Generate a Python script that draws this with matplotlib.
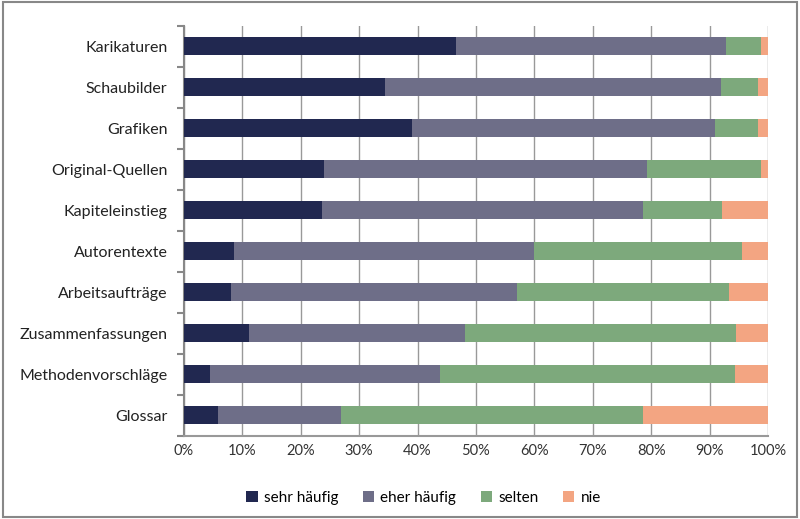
import numpy as np
import matplotlib
matplotlib.use('Agg')
import matplotlib.pyplot as plt
from matplotlib.patches import Rectangle

plt.rcParams['font.family'] = ['Lato', 'DejaVu Sans']

categories = ['Karikaturen', 'Schaubilder', 'Grafiken', 'Original-Quellen', 'Kapiteleinstieg',
              'Autorentexte', 'Arbeitsaufträge', 'Zusammenfassungen', 'Methodenvorschläge', 'Glossar']
series_names = ['sehr häufig', 'eher häufig', 'selten', 'nie']
sehr_haeufig = [46.6, 34.5, 39.1, 24.0, 23.7, 8.5, 8.0, 11.2, 4.5, 5.9]
eher_haeufig = [46.2, 57.4, 51.9, 55.2, 54.9, 51.4, 49.0, 37.0, 39.4, 21.0]
selten = [6.0, 6.4, 7.3, 19.6, 13.6, 35.7, 36.4, 46.4, 50.5, 51.7]
nie = [1.2, 1.7, 1.7, 1.2, 7.8, 4.4, 6.6, 5.4, 5.6, 21.4]
colors = ['#212850', '#6e6e88', '#7da97c', '#f3a582']

fig = plt.figure(figsize=(8, 5.19), dpi=100)
ax = fig.add_axes([0.23, 0.16, 0.73, 0.79])

y = np.arange(len(categories))
left = np.zeros(len(categories))
for name, vals, c in zip(series_names, [sehr_haeufig, eher_haeufig, selten, nie], colors):
    vals = np.array(vals)
    ax.barh(y, vals, left=left, height=0.44, color=c, label=name, zorder=3)
    left += vals

ax.set_xlim(0, 100)
ax.set_ylim(len(categories) - 0.5, -0.5)
ax.set_xticks(np.arange(0, 101, 10))
ax.set_xticklabels([f'{v}%' for v in range(0, 101, 10)], fontsize=10.5, color='#333333')
ax.set_yticks(y)
ax.set_yticklabels(categories, fontsize=11.5, color='#222222')
ax.set_yticks(np.arange(-0.5, len(categories), 1), minor=True)
ax.tick_params(axis='y', which='major', length=0, pad=12)
ax.tick_params(axis='y', which='minor', length=5, width=1.5, color='#888888')
ax.tick_params(axis='x', length=0, pad=6)
ax.grid(axis='x', color='#999999', linewidth=1, zorder=0)

for s in ['top', 'right']:
    ax.spines[s].set_visible(False)
ax.spines['left'].set_color('#888888')
ax.spines['left'].set_linewidth(1.5)
ax.spines['bottom'].set_color('#999999')
ax.spines['bottom'].set_linewidth(1.5)

ax.legend(loc='upper center', bbox_to_anchor=(0.41, -0.1), ncol=4, frameon=False,
          fontsize=11, handlelength=0.75, handleheight=0.75, columnspacing=1.6, handletextpad=0.4)

fig.patches.append(Rectangle((0.004, 0.004), 0.992, 0.992, transform=fig.transFigure,
                             fill=False, edgecolor='#888888', linewidth=1.5))

fig.savefig('out.png', dpi=100)
